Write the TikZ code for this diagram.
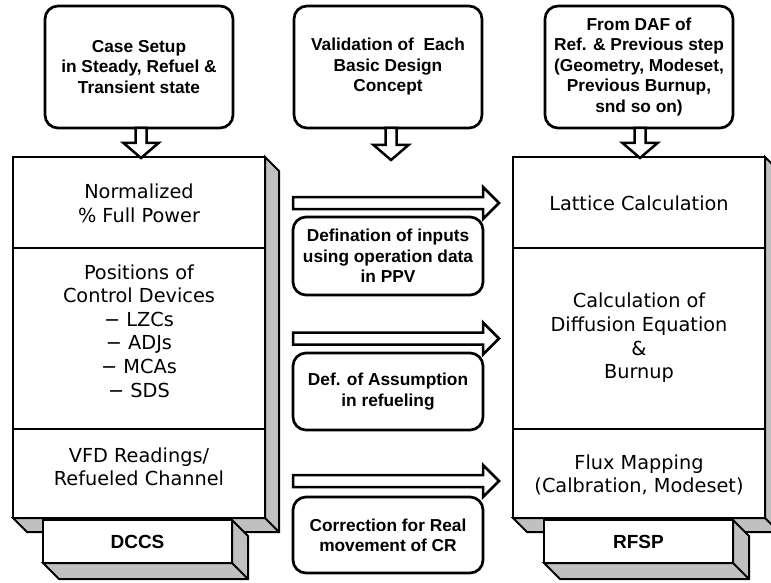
\documentclass[tikz,border=0pt]{standalone}
\usepackage{fontspec}
\setmainfont{Liberation Sans}
\newfontfamily\boxfont{DejaVu Sans}
\usetikzlibrary{calc}
\definecolor{shade}{HTML}{C0C0C0}
\newcommand\threedshadow[2]{%
  \draw[shadowface] (#1.north east) -- ($(#1.north east)+(#2,#2)$) -- ($(#1.south east)+(#2,#2)$) -- ($(#1.south west)+(#2,#2)$) -- (#1.south west) -- (#1.south east) -- cycle;
  \draw[shadowface] (#1.south east) -- ($(#1.south east)+(#2,#2)$);}
\newcommand\vblockarrow[2]{%
  \draw[barrow] ($(#1)+(-5.5,0)$) -- ($(#2)+(-5.5,-15)$) -- ($(#2)+(-17.5,-15)$) -- (#2) -- ($(#2)+(17.5,-15)$) -- ($(#2)+(5.5,-15)$) -- ($(#1)+(5.5,0)$) -- cycle;}
\newcommand\hblockarrow[2]{%
  \draw[barrow] ($(#1)+(0,-6)$) -- ($(#2)+(-16,-6)$) -- ($(#2)+(-16,-16)$) -- (#2) -- ($(#2)+(-16,16)$) -- ($(#2)+(-16,6)$) -- ($(#1)+(0,6)$) -- cycle;}
\begin{document}
\begin{tikzpicture}[x=1pt,y=-1pt,
  topbox/.style={draw, line width=2.7pt, rounded corners=13pt, fill=white, align=center, inner sep=0pt, outer sep=0pt,
    font=\bfseries\fontsize{17.3}{20.5}\selectfont, minimum width=188pt, minimum height=122pt},
  midbox/.style={draw, line width=2.7pt, rounded corners=13pt, fill=white, align=center, inner sep=0pt, outer sep=0pt,
    font=\bfseries\fontsize{17.3}{20.3}\selectfont, minimum width=190pt},
  bigbox/.style={draw, line width=2pt, fill=white, inner sep=0pt, outer sep=0pt, minimum width=252pt, minimum height=361pt},
  labelbox/.style={draw, line width=2.5pt, fill=white, inner sep=0pt, outer sep=0pt, minimum width=189pt, minimum height=43pt,
    font=\bfseries\fontsize{19}{22}\selectfont},
  bigtext/.style={align=center, inner sep=0pt, font=\boxfont\fontsize{19.3}{23.6}\selectfont},
  shadowface/.style={draw, fill=shade, line width=2pt, line join=miter},
  divider/.style={line width=1.1pt},
  barrow/.style={draw, fill=white, line width=2.5pt, line join=miter}]
\useasboundingbox (0,0) rectangle (771,583);

% top boxes
\node[topbox] (case) at (139,67) {Case Setup\\in Steady, Refuel \&\\Transient state};
\node[topbox] (valid) at (388,67) {Validation of~ Each\\Basic Design\\Concept};
\node[topbox] (daf) at (639,67) {From DAF of\\Ref. \& Previous step\\(Geometry, Modeset,\\Previous Burnup,\\snd so on)};

% left 3D box
\node[bigbox] (lbox) at (139,337.5) {};
\threedshadow{lbox}{14}
\draw[divider] (lbox.west |- 0,248) -- (lbox.east |- 0,248);
\draw[divider] (lbox.west |- 0,429) -- (lbox.east |- 0,429);
\node[bigtext] (norm) at (139,203.5) {Normalized\\\% Full Power};
\node[bigtext] (pos) at (139,331) {Positions of\\Control Devices\\− LZCs\\− ADJs\\− MCAs\\− SDS};
\node[bigtext] (vfd) at (139,467) {VFD Readings/\\Refueled Channel};
\node[labelbox] (dccs) at (137.5,541.5) {DCCS};
\threedshadow{dccs}{16}

% right 3D box
\node[bigbox] (rbox) at (639,337.5) {};
\threedshadow{rbox}{14}
\draw[divider] (rbox.west |- 0,248) -- (rbox.east |- 0,248);
\draw[divider] (rbox.west |- 0,429) -- (rbox.east |- 0,429);
\node[bigtext] (latt) at (639,203.5) {Lattice Calculation};
\node[bigtext] (diff) at (639,338) {Calculation of\\Diffusion Equation\\\&\\Burnup};
\node[bigtext] (flux) at (639,475) {Flux Mapping\\(Calbration, Modeset)};
\node[labelbox] (rfsp) at (638.5,541.5) {RFSP};
\threedshadow{rfsp}{16}

% middle boxes
\node[midbox, minimum height=78pt] (defin) at (388,256) {Defination of inputs\\using operation data\\in PPV};
\node[midbox, minimum height=77pt] (assum) at (388,391.5) {Def. of Assumption\\in refueling};
\node[midbox, minimum height=76pt] (corr) at (388,535) {Correction for Real\\movement of CR};

% down block arrows
\coordinate (ctip) at ($(case.south |- lbox.north)+(2,1)$);
\coordinate (cst) at (ctip |- case.south);
\vblockarrow{cst}{ctip}
\coordinate (vtip) at ($(valid.south)+(3,32)$);
\coordinate (vst) at (vtip |- valid.south);
\vblockarrow{vst}{vtip}
\coordinate (dtip) at ($(daf.south |- rbox.north)+(1,1)$);
\coordinate (dst) at (dtip |- daf.south);
\vblockarrow{dst}{dtip}

% horizontal block arrows
\coordinate (h1s) at (293,203);
\coordinate (h1e) at (499,203);
\hblockarrow{h1s}{h1e}
\coordinate (h2s) at (293,338.5);
\coordinate (h2e) at (499,338.5);
\hblockarrow{h2s}{h2e}
\coordinate (h3s) at (293,481);
\coordinate (h3e) at (499,481);
\hblockarrow{h3s}{h3e}
\end{tikzpicture}
\end{document}
